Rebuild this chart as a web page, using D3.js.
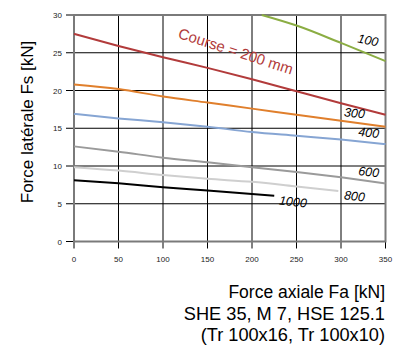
<!DOCTYPE html>
<html><head><meta charset="utf-8">
<script src="https://cdn.jsdelivr.net/npm/d3@7"></script>
<style>body{margin:0;background:#fff;} svg{display:block;font-family:"Liberation Sans",Arial,sans-serif;}</style>
</head><body><svg id="c" width="396" height="347"></svg>
<script>
const xTicks = [0,50,100,150,200,250,300,350];
const yTicks = [0,5,10,15,20,25,30];
const strokes = ["100","200","300","400","600","800","1000"];
const colors = ["#8bad43","#b23b3b","#e07f2c","#86a5d3","#9a9a9a","#cfcfcf","#000000"];
const fa100 = [211,250,300,350];           const fs100 = [30,28.6,26.3,23.9];
const fa200 = [0,50,100,150,200,250,300,350]; const fs200 = [27.5,25.9,24.4,23.0,21.5,19.9,18.3,16.8];
const fa300 = [0,50,100,150,200,250,300,350]; const fs300 = [20.8,20.2,19.2,18.4,17.6,16.8,16.0,15.2];
const fa400 = [0,50,100,150,200,250,300,350]; const fs400 = [16.9,16.3,15.8,15.2,14.5,14.0,13.5,12.9];
const fa600 = [0,50,100,150,200,250,300,350]; const fs600 = [12.6,11.9,11.1,10.5,9.85,9.2,8.5,7.7];
const fa800 = [0,50,100,150,200,250,297];     const fs800 = [9.85,9.4,8.8,8.3,7.9,7.3,6.7];
const fa1000 = [0,50,100,150,225];            const fs1000 = [8.1,7.7,7.2,6.75,6.05];
const labelText = ["100","Course = 200 mm","300","400","600","800","1000"];
const labelFa = [318,116,303,319,319,303,230];
const labelFs = [26.4,27.0,16.6,14.0,8.8,5.6,4.9];
const labelRot = [12,18,6,6,6,6,6];
const xTitle = "Force axiale Fa [kN]";
const subtitle = ["SHE 35, M 7, HSE 125.1","(Tr 100x16, Tr 100x10)"];
const yTitle = "Force latérale Fs [kN]";

const svg = d3.select("#c");
const x = d3.scaleLinear().domain([0,350]).range([74,385.5]);
const y = d3.scaleLinear().domain([0,30]).range([241.5,15]);

// grid
svg.append("g").selectAll("line.v").data(xTicks).join("line")
  .attr("x1",d=>x(d)).attr("x2",d=>x(d)).attr("y1",y(30)).attr("y2",y(0)+7)
  .attr("stroke","#000").attr("stroke-width",1);
svg.append("g").selectAll("line.h").data(yTicks).join("line")
  .attr("x1",x(0)-8).attr("x2",x(350)).attr("y1",d=>y(d)).attr("y2",d=>y(d))
  .attr("stroke","#000").attr("stroke-width",1);
// frame
svg.append("rect").attr("x",x(0)).attr("y",y(30)).attr("width",x(350)-x(0)).attr("height",y(0)-y(30))
  .attr("fill","none").attr("stroke","#7a7a7a").attr("stroke-width",2);

// tick labels
svg.append("g").selectAll("text").data(xTicks).join("text")
  .attr("x",d=>x(d)).attr("y",262).attr("text-anchor","middle")
  .attr("font-size",8).attr("fill","#222").text(d=>d);
svg.append("g").selectAll("text").data(yTicks).join("text")
  .attr("x",62).attr("y",d=>y(d)+3).attr("text-anchor","end")
  .attr("font-size",8).attr("fill","#222").text(d=>d);

// series
const series = [[fa100,fs100],[fa200,fs200],[fa300,fs300],[fa400,fs400],[fa600,fs600],[fa800,fs800],[fa1000,fs1000]];
const line = d3.line().x(d=>x(d[0])).y(d=>y(d[1])).curve(d3.curveMonotoneX);
svg.append("g").selectAll("path").data(series).join("path")
  .attr("d",s=>line(s[0].map((a,i)=>[a,s[1][i]])))
  .attr("fill","none").attr("stroke",(s,i)=>colors[i]).attr("stroke-width",2);

// labels
svg.append("g").selectAll("text").data(labelText).join("text")
  .attr("transform",(d,i)=>`translate(${x(labelFa[i])},${y(labelFs[i])}) rotate(${labelRot[i]})`)
  .attr("font-size",(d,i)=>i===1?15:12.5)
  .attr("font-style",(d,i)=>i===1?"normal":"italic")
  .attr("fill",(d,i)=>i===1?colors[1]:"#000")
  .text(d=>d);

// titles
svg.append("text").attr("transform","translate(33,122) rotate(-90)").attr("text-anchor","middle")
  .attr("font-size",17).attr("fill","#000").text(yTitle);
svg.append("text").attr("x",385).attr("y",298).attr("text-anchor","end").attr("font-size",17.5).text(xTitle);
svg.append("g").selectAll("text").data(subtitle).join("text")
  .attr("x",385).attr("y",(d,i)=>320+i*21).attr("text-anchor","end").attr("font-size",18.2).text(d=>d);
</script></body></html>
